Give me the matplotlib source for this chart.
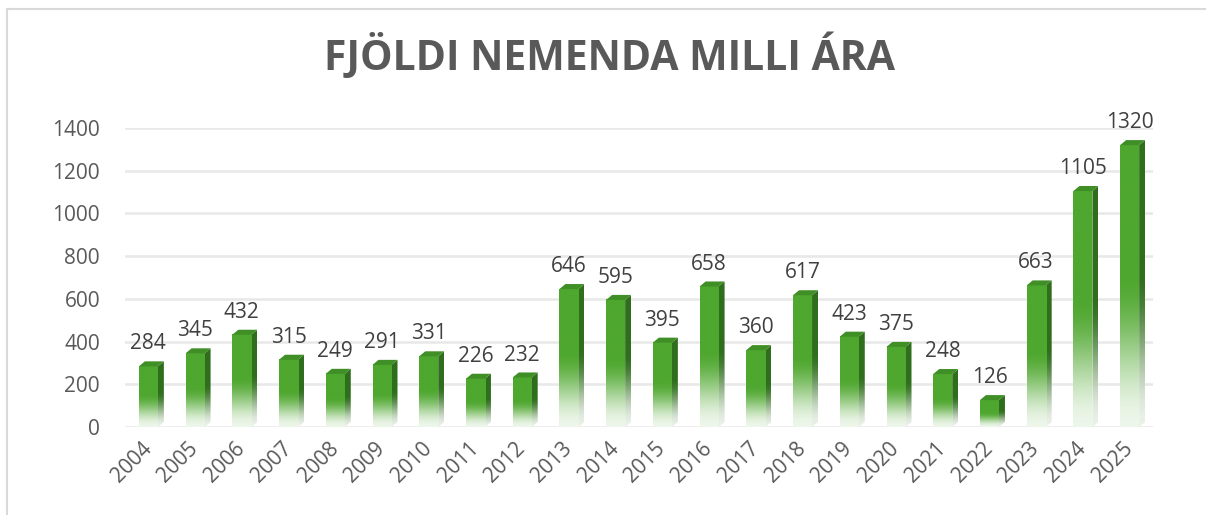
import numpy as np
import matplotlib.pyplot as plt
from matplotlib.patches import Polygon
from matplotlib.lines import Line2D

plt.rcParams['font.family'] = ['Open Sans', 'DejaVu Sans']

years = ['2004', '2005', '2006', '2007', '2008', '2009', '2010', '2011',
         '2012', '2013', '2014', '2015', '2016', '2017', '2018', '2019',
         '2020', '2021', '2022', '2023', '2024', '2025']
students = [284, 345, 432, 315, 249, 291, 331, 226, 232, 646, 595, 395,
            658, 360, 617, 423, 375, 248, 126, 663, 1105, 1320]

front = np.array([0x4e, 0xa7, 0x2e]) / 255
side = np.array([0x2f, 0x6e, 0x1d]) / 255
top_col = '#3f8f26'
text_col = '#595959'

W, H = 1206, 515
fig = plt.figure(figsize=(W / 100, H / 100), dpi=100)
ax_l, ax_r, ax_b, ax_t = 125, 1153, 427, 128
ax = fig.add_axes([ax_l / W, 1 - ax_b / H, (ax_r - ax_l) / W, (ax_b - ax_t) / H])

n = len(years)
ax.set_xlim(-0.5, n - 0.5)
ax.set_ylim(0, 1400)

# pixel -> data
px_x = n / (ax_r - ax_l)
px_y = 1400 / (ax_b - ax_t)
bw = 19 * px_x
dx = 6 * px_x
dy = 5 * px_y


def gradient(col, v):
    t = np.linspace(0, 1, 200)
    s = np.clip(t / 0.55, 0, 1)
    s = s * s * (3 - 2 * s)
    s = 0.1 + 0.9 * s
    rgb = (1 - s)[:, None] * np.ones(3) + s[:, None] * col
    return rgb[::-1][:, None, :]


for i, v in enumerate(students):
    x0, x1 = i - bw / 2, i + bw / 2
    # side face
    poly = Polygon([(x1, 0), (x1 + dx, dy), (x1 + dx, v + dy), (x1, v)],
                   closed=True, facecolor='none', edgecolor='none')
    ax.add_patch(poly)
    im = ax.imshow(gradient(side, v), extent=(x1, x1 + dx, 0, v + dy),
                   aspect='auto', interpolation='bilinear', zorder=2)
    im.set_clip_path(poly)
    # front face
    ax.imshow(gradient(front, v), extent=(x0, x1, 0, v),
              aspect='auto', interpolation='bilinear', zorder=3)
    # top face
    ax.add_patch(Polygon([(x0, v), (x1, v), (x1 + dx, v + dy), (x0 + dx, v + dy)],
                         closed=True, facecolor=top_col, edgecolor='none', zorder=3))
    ax.annotate(str(v), (i, v + dy), xytext=(0, 5), textcoords='offset points',
                ha='center', va='bottom', fontsize=15, color='#404040',
                annotation_clip=False)

ax.set_xlim(-0.5, n - 0.5)
ax.set_ylim(0, 1400)

ax.set_yticks(range(0, 1401, 200))
ax.yaxis.grid(True, color='#e8e8e8', linewidth=1.8)
ax.set_axisbelow(True)
ax.set_xticks(range(n))
ax.set_xticklabels(years, rotation=45, ha='right', va='center',
                   rotation_mode='anchor')
ax.tick_params(axis='x', length=0, pad=13, labelsize=15, labelcolor=text_col)
ax.tick_params(axis='y', length=0, pad=18, labelsize=15, labelcolor=text_col)
for sp in ax.spines.values():
    sp.set_visible(False)

fig.text(609 / W, 1 - 57 / H, 'FJÖLDI NEMENDA MILLI ÁRA', ha='center',
         va='center', fontsize=29.5, fontweight='bold', color=text_col)

# chart border (top and left visible)
fig.add_artist(Line2D([7 / W, 1], [1 - 9 / H, 1 - 9 / H], color='#d9d9d9',
                      linewidth=1.5, transform=fig.transFigure))
fig.add_artist(Line2D([7 / W, 7 / W], [0, 1 - 9 / H], color='#d9d9d9',
                      linewidth=1.5, transform=fig.transFigure))

fig.savefig('out.png', dpi=100)
